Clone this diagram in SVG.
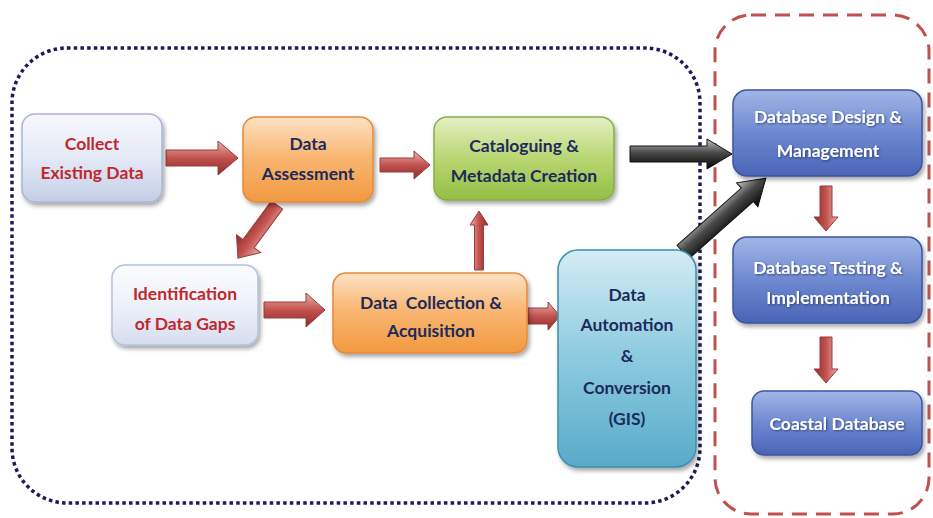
<svg xmlns="http://www.w3.org/2000/svg" width="933" height="518" viewBox="0 0 933 518">
<defs>
<style>
.t{font-family:Lato,"Open Sans","Liberation Sans",sans-serif;font-weight:700;font-size:17.5px;text-anchor:middle;dominant-baseline:central}
.red{fill:#c0282d}
.navy{fill:#1c2a5c}
.wh{fill:#ffffff;filter:url(#tsh)}
.box{filter:url(#sh)}
.ra{fill:url(#gRed);stroke:#9b3a38;stroke-width:1}
.ba{fill:url(#gBlk);stroke:#111;stroke-width:1}
</style>
<filter id="sh" x="-10%" y="-10%" width="125%" height="130%"><feDropShadow dx="2" dy="3" stdDeviation="2" flood-color="#000" flood-opacity="0.35"/></filter>
<filter id="tsh" x="-10%" y="-20%" width="120%" height="150%"><feDropShadow dx="1" dy="1" stdDeviation="0.8" flood-color="#1a2a60" flood-opacity="0.7"/></filter>
<linearGradient id="gL1" x1="0" y1="0" x2="0" y2="1"><stop offset="0" stop-color="#f7f8fd"/><stop offset="0.5" stop-color="#e4e9f6"/><stop offset="1" stop-color="#c3cfe8"/></linearGradient>
<linearGradient id="gL2" x1="0" y1="0" x2="0" y2="1"><stop offset="0" stop-color="#fbfcfe"/><stop offset="0.5" stop-color="#eef1f9"/><stop offset="1" stop-color="#d5ddef"/></linearGradient>
<linearGradient id="gO" x1="0" y1="0" x2="0" y2="1"><stop offset="0" stop-color="#fde2c4"/><stop offset="0.45" stop-color="#f9b774"/><stop offset="1" stop-color="#f29a40"/></linearGradient>
<linearGradient id="gG" x1="0" y1="0" x2="0" y2="1"><stop offset="0" stop-color="#e4f0c5"/><stop offset="0.5" stop-color="#b8d672"/><stop offset="1" stop-color="#93bf45"/></linearGradient>
<linearGradient id="gT" x1="0" y1="0" x2="0" y2="1"><stop offset="0" stop-color="#d4ecf4"/><stop offset="0.5" stop-color="#8ccadf"/><stop offset="1" stop-color="#58abc9"/></linearGradient>
<linearGradient id="gB" x1="0" y1="0" x2="0" y2="1"><stop offset="0" stop-color="#a2b6e6"/><stop offset="0.5" stop-color="#6e89d0"/><stop offset="1" stop-color="#4a64b6"/></linearGradient>
<linearGradient id="gRed" x1="0" y1="0" x2="0" y2="1"><stop offset="0" stop-color="#eab0ad"/><stop offset="0.5" stop-color="#c2524f"/><stop offset="1" stop-color="#8b2e2c"/></linearGradient>
<linearGradient id="gBlk" x1="0" y1="0" x2="0" y2="1"><stop offset="0" stop-color="#c4c4c4"/><stop offset="0.45" stop-color="#4a4a4a"/><stop offset="1" stop-color="#050505"/></linearGradient>
</defs>
<rect width="933" height="518" fill="#ffffff"/>

<g id="borders">
<rect x="12" y="48" width="688" height="455" rx="55" ry="55" fill="none" stroke="#1a1a5c" stroke-width="3.5" stroke-dasharray="3.5 3.2"/>
<rect x="715" y="15" width="214" height="499" rx="36" ry="36" fill="none" stroke="#c0504d" stroke-width="3" stroke-dasharray="15 9"/>
</g>

<g id="connectors">
<g transform="translate(166,158)"><path class="ra" d="M0,-8 L52,-8 L52,-17 L72,0 L52,17 L52,8 L0,8 Z"/></g>
<g transform="translate(380,165)"><path class="ra" d="M0,-7 L34,-7 L34,-14 L50,0 L34,14 L34,7 L0,7 Z"/></g>
<g transform="translate(277,205) rotate(126.3)"><path class="ra" d="M0,-7 L48,-7 L48,-15 L66,0 L48,15 L48,7 L0,7 Z"/></g>
<g transform="translate(264,310)"><path class="ra" d="M0,-8 L42,-8 L42,-17 L61,0 L42,17 L42,8 L0,8 Z"/></g>
<g transform="translate(528,316)"><path class="ra" d="M0,-8 L20,-8 L20,-14 L32,0 L20,14 L20,8 L0,8 Z"/></g>
<g transform="translate(479,270) rotate(-90)"><path class="ra" d="M0,-4.5 L45,-4.5 L45,-9 L59,0 L45,9 L45,4.5 L0,4.5 Z"/></g>
<g transform="translate(630,154)"><path class="ba" d="M0,-8 L77,-8 L77,-15 L102,0 L77,15 L77,8 L0,8 Z"/></g>
<g transform="translate(683,252) rotate(-41.7)"><path class="ba" d="M0,-9 L86,-9 L86,-16 L111,0 L86,16 L86,9 L0,9 Z"/></g>
<g transform="translate(826,186) rotate(90)"><path class="ra" d="M0,-6 L31,-6 L31,-12 L45,0 L31,12 L31,6 L0,6 Z"/></g>
<g transform="translate(826,337) rotate(90)"><path class="ra" d="M0,-6 L32,-6 L32,-12 L46,0 L32,12 L32,6 L0,6 Z"/></g>
</g>

<g id="collect">
<rect class="box" x="22" y="114" width="140" height="88" rx="13" fill="url(#gL1)" stroke="#a8b7d8" stroke-width="1.5"/>
<text class="t red" x="92" y="143">Collect</text>
<text class="t red" x="92" y="172">Existing Data</text>
</g>
<g id="assessment">
<rect class="box" x="243" y="117" width="130" height="85" rx="13" fill="url(#gO)" stroke="#e6893a" stroke-width="1.5"/>
<text class="t navy" x="308" y="143">Data</text>
<text class="t navy" x="308" y="173">Assessment</text>
</g>
<g id="cataloguing">
<rect class="box" x="434" y="117" width="180" height="83" rx="13" fill="url(#gG)" stroke="#88ad4a" stroke-width="1.5"/>
<text class="t navy" x="524" y="145">Cataloguing &amp;</text>
<text class="t navy" x="524" y="175">Metadata Creation</text>
</g>
<g id="identification">
<rect class="box" x="112" y="265" width="146" height="80" rx="13" fill="url(#gL2)" stroke="#b4c2de" stroke-width="1.5"/>
<text class="t red" x="185" y="293">Identification</text>
<text class="t red" x="185" y="323">of Data Gaps</text>
</g>
<g id="collection">
<rect class="box" x="333" y="273" width="194" height="80" rx="13" fill="url(#gO)" stroke="#e6893a" stroke-width="1.5"/>
<text class="t navy" x="431" y="302" xml:space="preserve">Data  Collection &amp;</text>
<text class="t navy" x="431" y="330">Acquisition</text>
</g>
<g id="automation">
<rect class="box" x="558" y="250" width="138" height="217" rx="20" fill="url(#gT)" stroke="#3d8fae" stroke-width="1.5"/>
<text class="t navy" x="627" y="294">Data</text>
<text class="t navy" x="627" y="324">Automation</text>
<text class="t navy" x="627" y="355">&amp;</text>
<text class="t navy" x="627" y="387">Conversion</text>
<text class="t navy" x="627" y="418">(GIS)</text>
</g>
<g id="design">
<rect class="box" x="733" y="90" width="189" height="86" rx="14" fill="url(#gB)" stroke="#3c56a2" stroke-width="1.5"/>
<text class="t wh" x="828" y="116">Database Design &amp;</text>
<text class="t wh" x="828" y="150">Management</text>
</g>
<g id="testing">
<rect class="box" x="733" y="237" width="189" height="86" rx="14" fill="url(#gB)" stroke="#3c56a2" stroke-width="1.5"/>
<text class="t wh" x="828" y="267">Database Testing &amp;</text>
<text class="t wh" x="828" y="297">Implementation</text>
</g>
<g id="coastal">
<rect class="box" x="752" y="391" width="170" height="64" rx="12" fill="url(#gB)" stroke="#3c56a2" stroke-width="1.5"/>
<text class="t wh" x="837" y="423">Coastal Database</text>
</g>
</svg>
